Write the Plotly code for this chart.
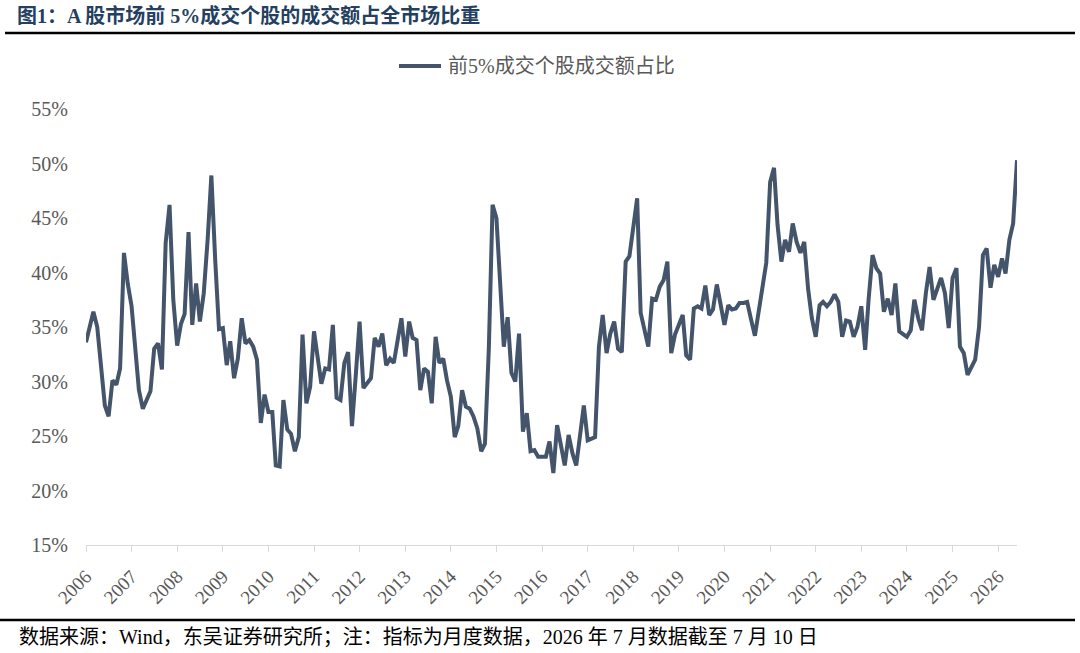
import pandas as pd
import plotly.graph_objects as go

# ---- data (monthly) ----
start_month = "2006-01-01"
share_top5 = [
    33.6, 35.0, 36.4, 35.0, 31.4, 27.8, 26.8, 30.1, 29.7, 31.2, 41.8, 39.0,
    36.9, 32.3, 29.2, 27.5, 28.3, 29.1, 33.0, 33.5, 31.1, 42.7, 46.2, 37.5,
    33.3, 35.3, 36.2, 43.7, 35.2, 39.0, 35.5, 38.1, 43.0, 48.9, 41.1, 34.8,
    34.9, 31.5, 33.7, 30.3, 32.1, 35.8, 33.5, 33.8, 33.2, 32.0, 26.2, 28.8,
    27.2, 27.2, 22.3, 22.2, 28.3, 25.6, 25.2, 23.6, 24.9, 34.3, 28.0, 29.5,
    34.6, 31.8, 29.8, 31.2, 31.1, 35.2, 28.5, 28.3, 31.7, 32.7, 25.9, 30.5,
    35.5, 29.4, 29.8, 30.3, 34.0, 33.2, 34.4, 31.5, 32.1, 31.7, 33.8, 35.8,
    32.3, 35.5, 34.0, 33.8, 29.2, 31.2, 30.9, 28.0, 34.1, 31.7, 32.1, 30.1,
    28.6, 24.9, 25.9, 29.2, 27.7, 27.5, 26.8, 25.7, 23.6, 24.3, 33.0, 46.2,
    45.0, 39.3, 33.2, 35.9, 30.8, 30.0, 34.4, 25.4, 27.1, 23.6, 23.7, 23.1,
    23.1, 23.1, 24.5, 21.6, 26.0, 24.3, 22.3, 25.1, 23.4, 22.3, 24.8, 27.8,
    24.6, 24.8, 24.9, 33.2, 36.1, 32.6, 34.4, 35.5, 33.0, 32.7, 41.0, 41.5,
    44.2, 46.8, 36.3, 34.7, 33.2, 37.6, 37.5, 38.7, 39.3, 41.0, 32.6, 34.3,
    35.3, 36.1, 32.4, 32.0, 36.7, 36.9, 36.7, 38.8, 36.1, 36.6, 38.9, 37.2,
    35.2, 37.0, 36.6, 36.7, 37.2, 37.2, 37.3, 35.7, 34.2, 36.4, 38.9, 40.9,
    48.3, 49.6, 44.4, 41.0, 43.0, 41.9, 44.5, 42.8, 41.8, 42.8, 38.5, 35.8,
    34.1, 37.0, 37.3, 36.9, 37.3, 38.0, 37.3, 34.1, 35.6, 35.5, 34.1, 35.0,
    36.9, 32.9, 37.6, 41.6, 40.4, 39.9, 36.4, 37.6, 36.1, 39.0, 34.6, 34.4,
    34.1, 34.7, 37.5, 35.8, 34.7, 38.1, 40.5, 37.5, 38.4, 39.5, 38.1, 34.9,
    39.5, 40.4, 33.2, 32.6, 30.6, 31.4, 32.0, 35.0, 41.6, 42.2, 38.6, 40.7,
    39.6, 41.3, 39.9, 43.0, 44.5, 50.3,
]
months = pd.date_range(start_month, periods=len(share_top5), freq="MS")
y_tick_values = [15, 20, 25, 30, 35, 40, 45, 50, 55]
y_tick_labels = ["15%", "20%", "25%", "30%", "35%", "40%", "45%", "50%", "55%"]

series_name = "前5%成交个股成交额占比"
title_text = "图1：A 股市场前 5%成交个股的成交额占全市场比重"
source_text = "数据来源：Wind，东吴证券研究所；注：指标为月度数据，2026 年 7 月数据截至 7 月 10 日"

# ---- layout helpers (pixel -> paper) ----
W, H = 1080, 653
L, R, T, B = 86, 1017, 109, 545
def px(x):
    return (x - L) / (R - L)
def py(y):
    return (B - y) / (B - T)

SERIF = "'Liberation Serif', 'Times New Roman', 'Noto Sans CJK SC', serif"
GRAY = "#595959"
LINE_COLOR = "#44546A"

fig = go.Figure()
fig.add_trace(go.Scatter(
    x=months, y=share_top5, mode="lines", name=series_name,
    line=dict(color=LINE_COLOR, width=4), showlegend=False,
))

fig.update_layout(
    width=W, height=H,
    margin=dict(l=L, r=W - R, t=T, b=H - B, pad=0),
    paper_bgcolor="white", plot_bgcolor="white",
    font=dict(family=SERIF, color=GRAY),
    title=dict(text="<b>" + title_text + "</b>", xref="container", yref="container",
               x=17 / W, xanchor="left", y=1 - 16 / H, yanchor="middle",
               font=dict(size=20, color="#243F60", family=SERIF)),
)

fig.update_xaxes(
    type="date", range=[months[0], months[-1]],
    tick0=start_month, dtick="M12", tickformat="%Y", tickangle=-45,
    showgrid=False, zeroline=False,
    showline=True, linecolor="#D9D9D9", linewidth=1,
    ticks="outside", ticklen=6, tickcolor="#D9D9D9", tickwidth=1,
    ticklabelstandoff=6,
    tickfont=dict(size=19, color=GRAY, family=SERIF),
)
fig.update_yaxes(
    range=[15, 55], tickmode="array", tickvals=y_tick_values, ticktext=y_tick_labels,
    showgrid=False, zeroline=False, showline=False, ticks="",
    ticklabelstandoff=17,
    tickfont=dict(size=20, color=GRAY, family=SERIF),
)

# legend key (sample line + label) at top centre
fig.add_shape(type="line", xref="paper", yref="paper",
              x0=px(399), x1=px(441), y0=py(66), y1=py(66),
              line=dict(color=LINE_COLOR, width=4))
fig.add_annotation(text=series_name, xref="paper", yref="paper",
                   x=px(446), xanchor="left", y=py(66), yanchor="middle",
                   showarrow=False, font=dict(size=20, color=GRAY, family=SERIF))

# rules under title and above source
fig.add_shape(type="line", xref="paper", yref="paper",
              x0=px(5), x1=px(1075), y0=py(33), y1=py(33),
              line=dict(color="black", width=2.5))
fig.add_shape(type="line", xref="paper", yref="paper",
              x0=px(0), x1=px(1075), y0=py(620), y1=py(620),
              line=dict(color="black", width=2.5))

fig.add_annotation(text=source_text, xref="paper", yref="paper",
                   x=px(17), xanchor="left", y=py(637), yanchor="middle",
                   showarrow=False, font=dict(size=20, color="black", family=SERIF))

fig.write_html("out.html", config={"displayModeBar": False},
               post_script="document.body.style.margin='0px';")
